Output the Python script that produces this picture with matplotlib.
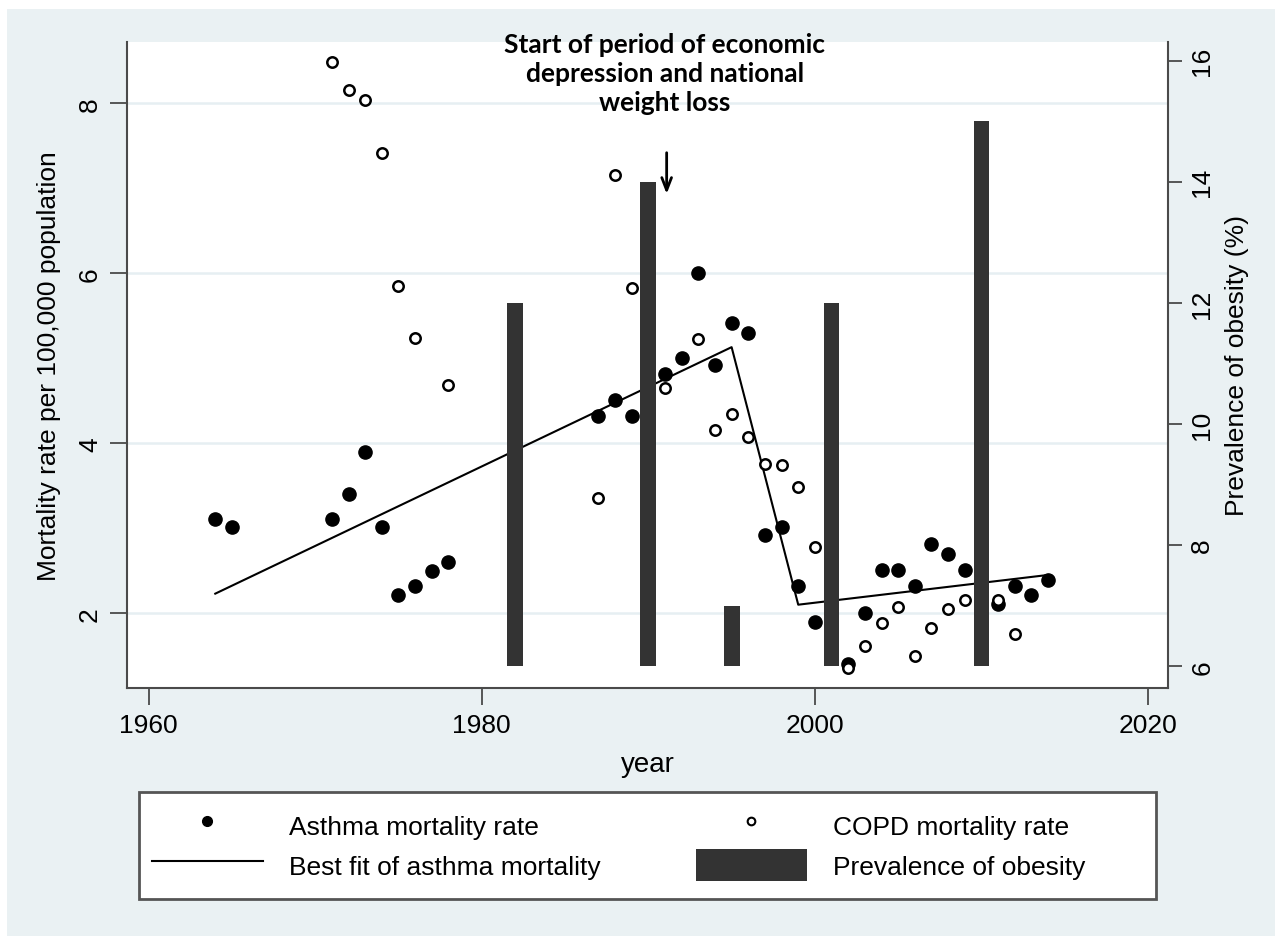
import matplotlib.pyplot as plt
from matplotlib.lines import Line2D
from matplotlib.patches import Patch, Rectangle

# asthma mortality (filled dots)
asthma_year = [1964, 1965, 1971, 1972, 1973, 1974, 1975, 1976, 1977, 1978,
               1987, 1988, 1989, 1991, 1992, 1993, 1994, 1995, 1996,
               1997, 1998, 1999, 2000, 2002, 2003, 2004, 2005, 2006, 2007,
               2008, 2009, 2011, 2012, 2013, 2014]
asthma_rate = [3.11, 3.01, 3.11, 3.40, 3.90, 3.01, 2.22, 2.32, 2.50, 2.60,
               4.32, 4.51, 4.32, 4.82, 5.00, 6.00, 4.92, 5.42, 5.30,
               2.92, 3.01, 2.32, 1.90, 1.40, 2.00, 2.51, 2.51, 2.32, 2.82,
               2.70, 2.51, 2.11, 2.32, 2.21, 2.39]

# COPD mortality (hollow dots)
copd_year = [1971, 1972, 1973, 1974, 1975, 1976, 1978, 1987, 1988, 1989,
             1991, 1993, 1994, 1995, 1996, 1997, 1998, 1999, 2000,
             2002, 2003, 2004, 2005, 2006, 2007, 2008, 2009, 2011, 2012]
copd_rate = [8.49, 8.16, 8.04, 7.41, 5.85, 5.24, 4.69, 3.35, 7.15, 5.83,
             4.65, 5.23, 4.15, 4.34, 4.07, 3.76, 3.74, 3.48, 2.78,
             1.36, 1.61, 1.88, 2.07, 1.50, 1.83, 2.05, 2.15, 2.15, 1.76]

# piecewise best fit of asthma mortality
fit_year = [1964, 1995, 1999, 2014]
fit_rate = [2.23, 5.13, 2.10, 2.45]

# prevalence of obesity (%)
obesity_year = [1982, 1990, 1995, 2001, 2010]
obesity_pct = [12, 14, 7, 12, 15]

bg = '#eaf1f3'
axcol = '#4a4a4a'

plt.rcParams['font.family'] = ['Liberation Sans', 'DejaVu Sans']

fig = plt.figure(figsize=(12.75, 9.37), dpi=100)
fig.patches.append(Rectangle((7 / 1275, 0), 1, 1 - 10 / 937, transform=fig.transFigure,
                             facecolor=bg, edgecolor='none', zorder=-10))

ax = fig.add_axes([127 / 1275, 1 - 689 / 937, (1168 - 127) / 1275, (689 - 43) / 937])
ax.set_facecolor('white')

ax.plot(fit_year, fit_rate, color='black', lw=1.5, zorder=3)
ax.plot(asthma_year, asthma_rate, 'o', color='black', ms=9.5, zorder=4)
ax.plot(copd_year, copd_rate, 'o', mfc='white', mec='black', ms=7.5, mew=1.8, zorder=4)

ax.set_xlim(1958.7, 2021.2)
ax.set_ylim(1.12, 8.72)
ax.set_xticks([1960, 1980, 2000, 2020])
ax.set_yticks([2, 4, 6, 8])
ax.yaxis.grid(True, color='#e6eff2', lw=1.8)
ax.set_axisbelow(True)

ax2 = ax.twinx()
ax2.bar(obesity_year, [v - 6 for v in obesity_pct], bottom=6, width=0.95,
        color='#333333', zorder=5)
ax2.set_ylim(5.64, 16.31)
ax2.set_yticks([6, 8, 10, 12, 14, 16])

for a in (ax, ax2):
    for s in a.spines.values():
        s.set_color(axcol)
        s.set_linewidth(1.5)
    a.spines['top'].set_visible(False)
ax.spines['right'].set_visible(False)
ax2.spines['left'].set_visible(False)
ax2.spines['bottom'].set_visible(False)

ax.tick_params(axis='x', length=12, width=1.3, color=axcol, labelsize=19, pad=6)
ax.tick_params(axis='y', length=12, width=1.3, color=axcol, labelsize=19,
               labelrotation=90, pad=6)
ax2.tick_params(axis='y', length=10, width=1.3, color=axcol, labelsize=19,
                labelrotation=90, pad=6)
for lab in ax.get_yticklabels() + ax2.get_yticklabels():
    lab.set_va('center')

ax.set_xlabel('year', fontsize=20, labelpad=10)
ax.set_ylabel('Mortality rate per 100,000 population', fontsize=19, labelpad=12)
ax2.set_ylabel('Prevalence of obesity (%)', fontsize=19, labelpad=8)

# annotation
fig.text(665 / 1275, 1 - 74 / 937, 'Start of period of economic\ndepression and national\nweight loss',
         ha='center', va='center', fontsize=19, fontweight='bold', family='Lato',
         linespacing=1.25)
ax.annotate('', xy=(1991.1, 6.9), xytext=(1991.1, 7.45),
            arrowprops=dict(arrowstyle='->,head_length=0.9,head_width=0.35',
                            color='black', lw=2))

# legend: frame drawn as a figure patch, entries placed with fixed spacing
fig.patches.append(Rectangle((139 / 1275, 1 - 900 / 937), (1156 - 139) / 1275, 107 / 937,
                             transform=fig.transFigure, facecolor='white',
                             edgecolor='#555555', lw=2, zorder=1))
handles = [
    Line2D([], [], ls='none', marker='o', color='black', ms=7),
    Line2D([], [], color='black', lw=1.5),
    Line2D([], [], ls='none', marker='o', mfc='white', mec='black', ms=5.5, mew=1.5),
    Patch(facecolor='#333333', edgecolor='none'),
]
labels = ['Asthma mortality rate', 'Best fit of asthma mortality',
          'COPD mortality rate', 'Prevalence of obesity']
leg = fig.legend(handles, labels, ncol=2, loc='center left',
                 bbox_to_anchor=(152 / 1275, 1 - 846 / 937),
                 fontsize=19, frameon=False,
                 handlelength=4.2, handleheight=1.5, handletextpad=1.0,
                 labelspacing=0.3, columnspacing=3.6, borderpad=0, borderaxespad=0)

fig.savefig('out.png', dpi=100)
